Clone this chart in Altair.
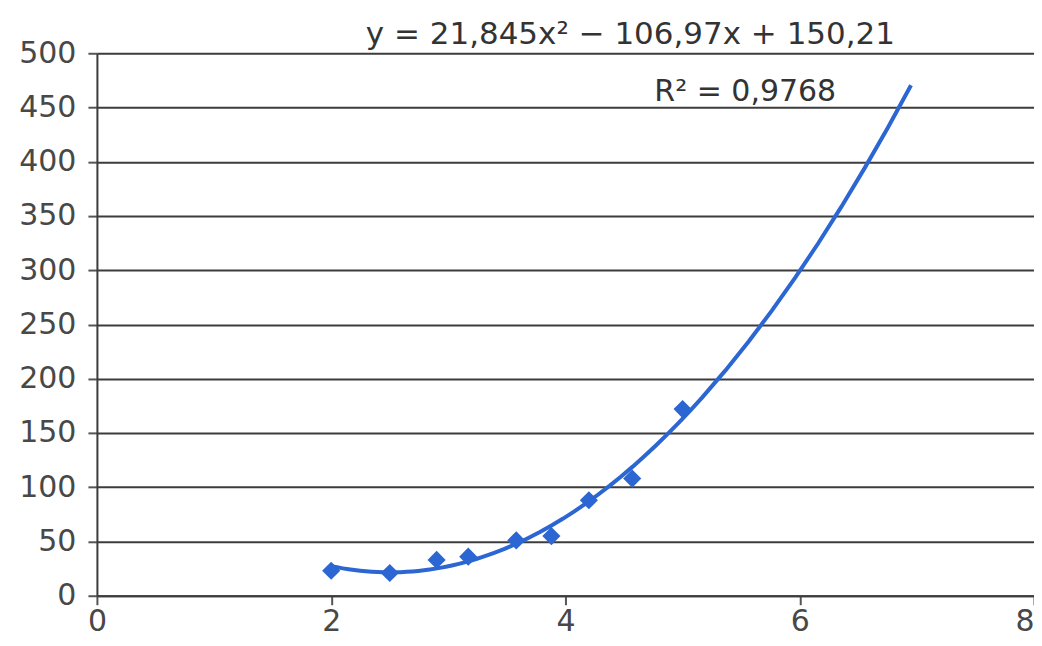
import altair as alt
import pandas as pd

x_vals = [2.0, 2.5, 2.9, 3.17, 3.58, 3.88, 4.2, 4.57, 5.0]
y_vals = [23, 21, 33, 36, 51, 55, 88, 108, 172]
equation = "y  =  21,845x²  −  106,97x  +  150,21"
r2_label = ["R²  =  0,9768"]
r2_x = [5.535]
r2_y = [464]
trend_extent = [2, 6.95]

df = pd.DataFrame({"x": x_vals, "y": y_vals})
lab = pd.DataFrame({"x": r2_x, "y": r2_y, "t": r2_label})

FONT = "DejaVu Sans"
BLUE = "#2b66d2"
GRID = "#3c3c3c"
LABEL = "#484848"

xs = alt.Scale(domain=[0, 8], nice=False, zero=True)
ys = alt.Scale(domain=[0, 500], nice=False)

xax = alt.Axis(values=[0, 2, 4, 6, 8], format="d", grid=False, labelFontSize=30,
               labelColor=LABEL, labelFont=FONT, tickSize=9, tickColor="#555",
               tickWidth=2, domainColor=GRID, domainWidth=2, labelPadding=2,
               labelFlush=False, labelOverlap=False,
               labelAlign={"expr": "datum.value == 8 ? 'right' : 'center'"},
               title=None)
yax = alt.Axis(values=list(range(0, 501, 50)), format="d", grid=True, gridColor=GRID,
               gridWidth=2, labelFontSize=30, labelColor=LABEL, labelFont=FONT, tickSize=9,
               tickColor="#555", tickWidth=2, domainColor=GRID, domainWidth=2,
               labelPadding=12, labelFlush=False, title=None)

base = alt.Chart(df)

pts = base.mark_point(shape="diamond", filled=True, size=330, color=BLUE, opacity=1).encode(
    x=alt.X("x:Q", scale=xs, axis=xax),
    y=alt.Y("y:Q", scale=ys, axis=yax),
)

trend = base.transform_regression(
    "x", "y", method="poly", order=2, extent=trend_extent
).mark_line(color=BLUE, strokeWidth=4).encode(
    x=alt.X("x:Q", scale=xs), y=alt.Y("y:Q", scale=ys)
)

r2 = alt.Chart(lab).mark_text(fontSize=30, font=FONT, color="#333").encode(
    x=alt.X("x:Q", scale=xs), y=alt.Y("y:Q", scale=ys), text="t:N"
)

chart = alt.layer(trend, pts, r2).properties(
    width=938, height=543,
    title=alt.TitleParams(equation, fontSize=31, font=FONT, fontWeight="normal", color="#333",
                          anchor="middle", dx=65, dy=15, offset=2),
    autosize=alt.AutoSizeParams(type="none"),
    padding={"left": 89, "top": 45, "right": 0, "bottom": 42},
).configure_view(stroke=GRID, strokeWidth=2).configure(background="white")

chart.save("out.html", embed_options={"renderer": "svg", "actions": False})
